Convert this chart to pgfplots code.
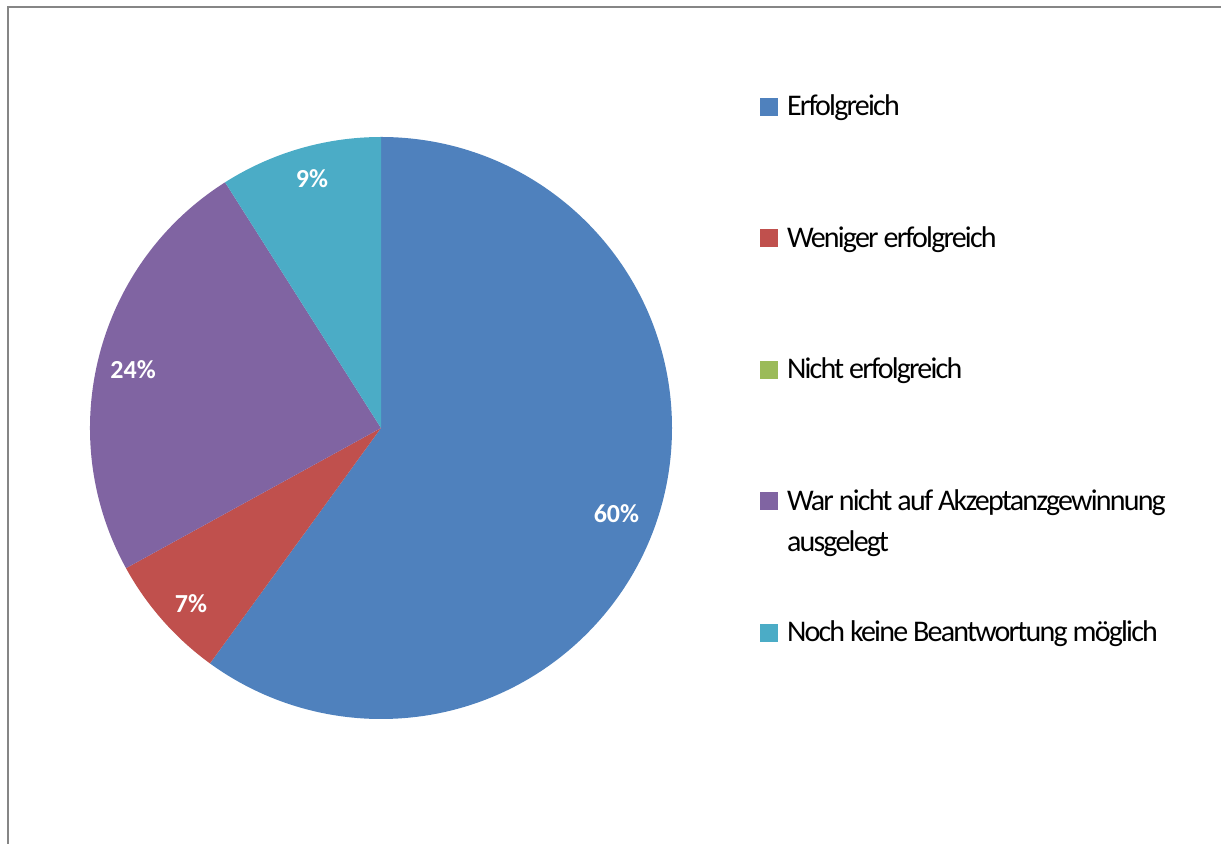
\documentclass[border=0pt]{standalone}
\usepackage{pgfplots}
\pgfplotsset{compat=1.18}
\usepackage{fontspec}
\setmainfont{Carlito}
\newfontfamily\legfont[LetterSpace=-6]{Carlito}
\definecolor{cA}{HTML}{4F81BD}
\definecolor{cB}{HTML}{C0504D}
\definecolor{cC}{HTML}{9BBB59}
\definecolor{cD}{HTML}{8064A2}
\definecolor{cE}{HTML}{4BACC6}
\definecolor{frame}{HTML}{868686}
\begin{document}
\begin{tikzpicture}
\useasboundingbox (0,0) rectangle (610.5pt,422pt);
\clip (0,0) rectangle (610.5pt,422pt);
\draw[frame, line width=0.8pt] (4pt,-2pt) -- (4pt,418.6pt) -- (620pt,418.6pt);
% shares in percent
\def\vA{60}\def\vB{7}\def\vC{0}\def\vD{24}\def\vE{9}
\pgfmathsetmacro\aA{90}
\pgfmathsetmacro\aB{\aA-3.6*\vA}
\pgfmathsetmacro\aC{\aB-3.6*\vB}
\pgfmathsetmacro\aD{\aC-3.6*\vC}
\pgfmathsetmacro\aE{\aD-3.6*\vD}
\pgfmathsetmacro\aF{\aE-3.6*\vE}
\begin{axis}[
  at={(190.5pt,208pt)}, anchor=center,
  scale only axis, width=291pt, height=291pt,
  xmin=-1, xmax=1, ymin=-1, ymax=1,
  hide axis, clip=false,
  legend image code/.code={\fill[#1] (0pt,-4pt) rectangle (9pt,5pt);},
  legend cell align=left,
  legend style={at={(axis description cs:1.1512,1.0739)}, anchor=north west,
    draw=none, fill=none, inner sep=0pt, outer sep=0pt,
    row sep=51.75pt, column sep=4.5pt,
    nodes={inner sep=0pt, text height=11pt, text depth=3pt,
      font=\legfont\fontsize{15}{18}\selectfont}},
]
\fill[cA] (axis cs:0,0) -- (axis cs:{cos(\aA)},{sin(\aA)}) arc[start angle=\aA, end angle=\aB, radius=145.5pt] -- cycle;
\fill[cB] (axis cs:0,0) -- (axis cs:{cos(\aB)},{sin(\aB)}) arc[start angle=\aB, end angle=\aC, radius=145.5pt] -- cycle;
\fill[cD] (axis cs:0,0) -- (axis cs:{cos(\aD)},{sin(\aD)}) arc[start angle=\aD, end angle=\aE, radius=145.5pt] -- cycle;
\fill[cE] (axis cs:0,0) -- (axis cs:{cos(\aE)},{sin(\aE)}) arc[start angle=\aE, end angle=\aF, radius=145.5pt] -- cycle;
\begin{scope}[every node/.style={font=\bfseries\fontsize{13}{15}\selectfont, text=white}]
\node at (axis cs:0.809,-0.296) {60\%};
\node at (axis cs:-0.653,-0.605) {7\%};
\node at (axis cs:-0.852,0.199) {24\%};
\node at (axis cs:-0.237,0.856) {9\%};
\end{scope}
\addlegendimage{draw=none, fill=cA}
\addlegendentry{Erfolgreich}
\addlegendimage{draw=none, fill=cB}
\addlegendentry{Weniger erfolgreich}
\addlegendimage{draw=none, fill=cC}
\addlegendentry{Nicht erfolgreich}
\addlegendimage{draw=none, fill=cD}
\addlegendentry{\parbox[t]{250pt}{\legfont\fontsize{15}{20.5}\selectfont War nicht auf Akzeptanzgewinnung\\ausgelegt}}
\addlegendimage{draw=none, fill=cE}
\addlegendentry{Noch keine Beantwortung möglich}
\end{axis}
\end{tikzpicture}
\end{document}
